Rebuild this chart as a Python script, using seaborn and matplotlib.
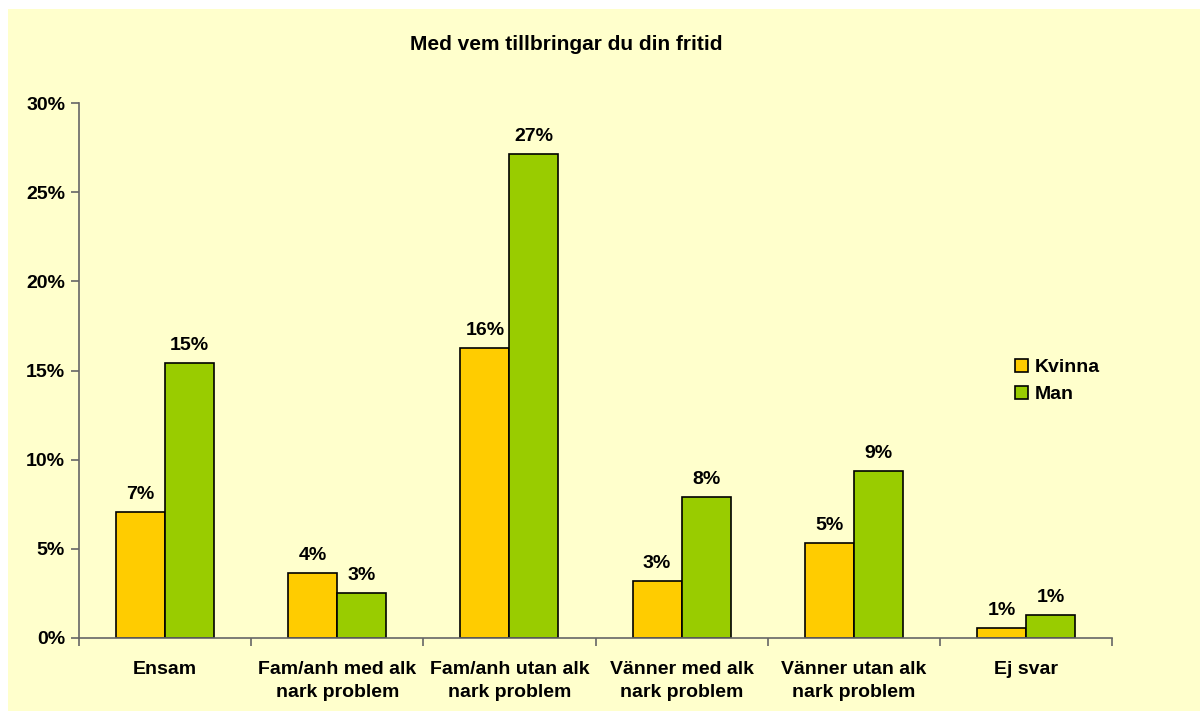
# -*- coding: utf-8 -*-
"""
    Med vem tillbringar du din fritid - grouped bars, Kvinna vs Man
"""

import pandas as pd
import matplotlib.pyplot as plt
from matplotlib.patches import Rectangle
import seaborn as sns

categories = [
    "Ensam",
    "Fam/anh med alk\nnark problem",
    "Fam/anh utan alk\nnark problem",
    "Vänner med alk\nnark problem",
    "Vänner utan alk\nnark problem",
    "Ej svar",
]
kvinna = [7.05, 3.66, 16.26, 3.2, 5.31, 0.56]
man = [15.43, 2.54, 27.14, 7.93, 9.35, 1.29]
groups = ["Kvinna", "Man"]
colors = ["#FFCC00", "#99CC00"]
yticks = [0, 5, 10, 15, 20, 25, 30]
title = "Med vem tillbringar du din fritid"

df = pd.DataFrame({
    "kat": categories * 2,
    "kon": [groups[0]] * len(categories) + [groups[1]] * len(categories),
    "varde": kvinna + man,
})

plt.rcParams["font.family"] = ["Liberation Sans", "DejaVu Sans"]
plt.rcParams["font.weight"] = "bold"

fig = plt.figure(figsize=(12, 7.11), dpi=100, facecolor="white")
# yellow chart area, white strip top and left
fig.patches.append(Rectangle((8 / 1200, 0), 1, 1 - 9 / 711, transform=fig.transFigure,
                             facecolor="#FFFFCC", edgecolor="none", zorder=-10))

ax = fig.add_axes([79 / 1200, 1 - 638 / 711, (1112 - 79) / 1200, (638 - 103) / 711])
ax.set_facecolor("none")

sns.barplot(data=df, x="kat", y="varde", hue="kon", hue_order=groups, palette=colors,
            width=0.57, gap=0, edgecolor="black", linewidth=1.2, saturation=1, ax=ax)

for cont in ax.containers:
    ax.bar_label(cont, labels=[f"{v:.0f}%" for v in cont.datavalues], padding=6.5,
                 fontsize=14, fontweight="bold")

ax.set_ylim(0, 30)
ax.set_xlim(-0.5, len(categories) - 0.5)
ax.set_yticks(yticks)
ax.set_yticklabels([f"{t}%" for t in yticks], fontsize=14, fontweight="bold")
ax.tick_params(axis="y", length=6, width=1.2, color="#666666", pad=4)
ax.tick_params(axis="x", which="major", length=0, pad=16.5, labelsize=14)
ax.set_xticks([i - 0.5 for i in range(len(categories) + 1)], minor=True)
ax.tick_params(axis="x", which="minor", length=6, width=1.2, color="#666666")
for lbl in ax.get_xticklabels():
    lbl.set_fontweight("bold")
    lbl.set_linespacing(1.5)

ax.set_xlabel(None)
ax.set_ylabel(None)
for s in ["top", "right"]:
    ax.spines[s].set_visible(False)
for s in ["left", "bottom"]:
    ax.spines[s].set_color("#666666")
    ax.spines[s].set_linewidth(1.2)

ax.legend(loc="upper left", bbox_to_anchor=(1015 / 1200, 1 - 359 / 711),
          bbox_transform=fig.transFigure, frameon=False,
          handlelength=0.65, handleheight=0.65, handletextpad=0.35,
          borderpad=0, borderaxespad=0, labelspacing=0.5,
          prop={"weight": "bold", "size": 14})

fig.text(566 / 1200, 1 - 44 / 711, title, ha="center", va="center",
         fontsize=15, fontweight="bold")

plt.savefig("out.png", dpi=100, facecolor=fig.get_facecolor())
